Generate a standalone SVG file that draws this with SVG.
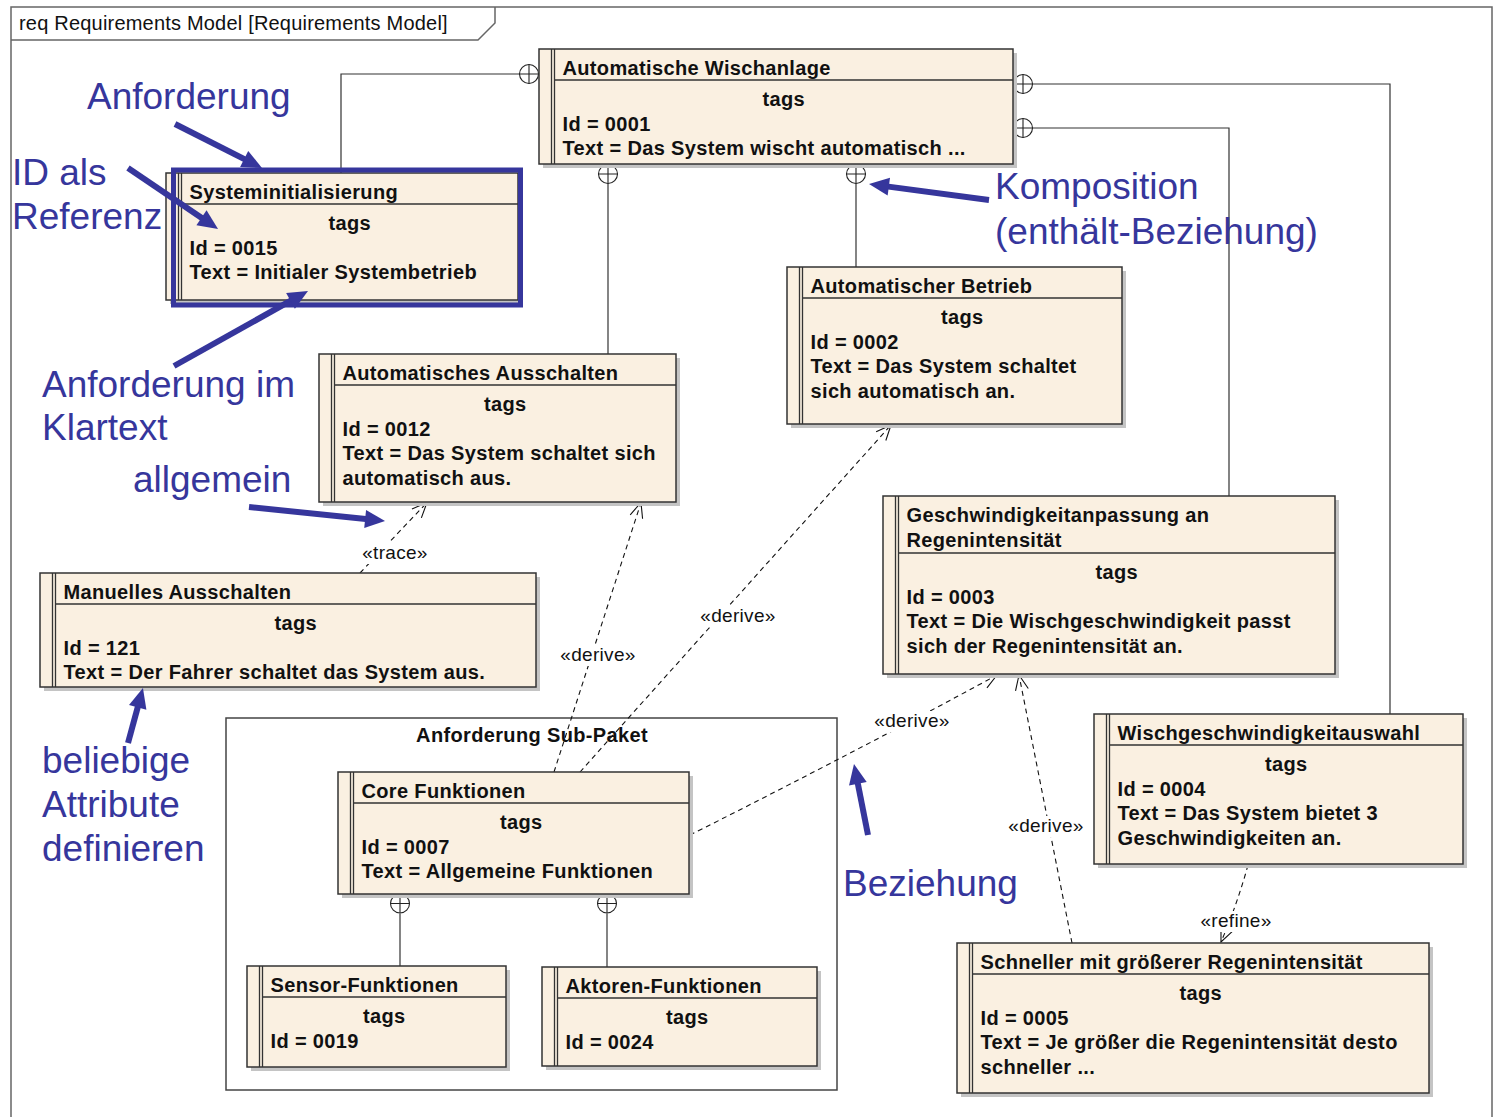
<svg xmlns="http://www.w3.org/2000/svg" width="1494" height="1117" viewBox="0 0 1494 1117">
  <style>
    .frame { fill: none; stroke: #666; stroke-width: 1.5; }
    .pkg { fill: none; stroke: #444; stroke-width: 1.5; }
    .shadow { fill: #c4c4c4; }
    .box { fill: #FAF0E1; stroke: #333; stroke-width: 1.5; }
    .rule { stroke: #333; stroke-width: 1.3; fill: none; }
    .t { font-family: "Liberation Sans", Arial, sans-serif; font-weight: bold; font-size: 20px; letter-spacing: 0.35px; fill: #111; }
    .mid { text-anchor: middle; }
    .plain { font-family: "Liberation Sans", Arial, sans-serif; font-size: 20px; letter-spacing: 0.2px; fill: #111; }
    .lbl { font-family: "Liberation Sans", Arial, sans-serif; font-size: 19px; letter-spacing: 0.3px; fill: #111; text-anchor: middle; }
    .lblbg { fill: #fff; }
    .comp { stroke: #333; stroke-width: 1.2; fill: none; }
    .knob { fill: #fff; stroke: #222; stroke-width: 1.1; }
    .dep { stroke: #111; stroke-width: 1.1; fill: none; stroke-dasharray: 5 4; marker-end: url(#open); }
    .note { font-family: "Liberation Sans", Arial, sans-serif; font-size: 37px; fill: #36369C; }
    .pointer { stroke: #36369C; stroke-width: 6; fill: none; marker-end: url(#head); }
  </style>
  <defs>
    <marker id="open" markerUnits="userSpaceOnUse" viewBox="-17 -8 19 16" markerWidth="19" markerHeight="16" refX="0" refY="0" orient="auto" overflow="visible">
      <path d="M-15,-6.5 L0,0 L-15,6.5" fill="none" stroke="#111" stroke-width="1.1" stroke-dasharray="none"/>
    </marker>
    <marker id="head" markerUnits="userSpaceOnUse" viewBox="0 0 20 18" markerWidth="20" markerHeight="18" refX="8" refY="9" orient="auto" overflow="visible">
      <path d="M0,0 L20,9 L0,18 z" fill="#36369C"/>
    </marker>
    <!-- composition end: circle with a cross -->
    <g id="owner">
      <circle r="9.5" class="knob"/>
      <path d="M-9.5,0 H9.5 M0,-9.5 V9.5" stroke="#222" stroke-width="1.1"/>
    </g>
  </defs>

  <rect width="1494" height="1117" fill="#fff"/>

  <!-- diagram frame -->
  <g id="frame">
    <rect x="11" y="7" width="1481" height="1115" class="frame"/>
    <path d="M11,40 H478 L495,23 V7" class="frame"/>
    <text x="19" y="30" class="plain">req Requirements Model [Requirements Model]</text>
  </g>

  <!-- package -->
  <g id="pkg-sub">
    <rect x="226" y="718" width="611" height="372" class="pkg"/>
    <text x="532" y="742" class="t mid">Anforderung Sub-Paket</text>
  </g>

  <!-- connectors -->
  <g id="connectors">
    <path d="M519.5,74 H341 V173" class="comp"/>
    <path d="M608,183.5 V354" class="comp"/>
    <path d="M856,183.5 V267" class="comp"/>
    <path d="M1032.5,84 H1390 V714" class="comp"/>
    <path d="M1032.5,128 H1229 V496" class="comp"/>
    <path d="M400,913.5 V966" class="comp"/>
    <path d="M607,913.5 V967" class="comp"/>
    <use href="#owner" x="529" y="74"/>
    <use href="#owner" x="608" y="174"/>
    <use href="#owner" x="856" y="174"/>
    <use href="#owner" x="1023" y="84"/>
    <use href="#owner" x="1023" y="128"/>
    <use href="#owner" x="400" y="903.5"/>
    <use href="#owner" x="607" y="903.5"/>

    <path d="M360,573 L427,502.5" class="dep"/>
    <path d="M554,772 L641,502.5" class="dep"/>
    <path d="M580,772 L891,425" class="dep"/>
    <path d="M690,835 C760,800 900,728 997,675" class="dep"/>
    <path d="M1072,943 L1019,675" class="dep"/>
    <path d="M1248,865 Q1237,905 1221,942" class="dep"/>

    <rect x="361" y="543" width="68" height="21" class="lblbg"/>
    <text x="395" y="559" class="lbl">«trace»</text>
    <rect x="559" y="645" width="79" height="21" class="lblbg"/>
    <text x="598" y="661" class="lbl">«derive»</text>
    <rect x="699" y="606" width="79" height="21" class="lblbg"/>
    <text x="738" y="622" class="lbl">«derive»</text>
    <rect x="873" y="711" width="79" height="21" class="lblbg"/>
    <text x="912" y="727" class="lbl">«derive»</text>
    <rect x="1007" y="816" width="79" height="21" class="lblbg"/>
    <text x="1046" y="832" class="lbl">«derive»</text>
    <rect x="1199" y="911" width="75" height="21" class="lblbg"/>
    <text x="1236" y="927" class="lbl">«refine»</text>
  </g>

  <!-- requirements -->
  <g id="req-0001">
    <rect x="543" y="53" width="474" height="115" class="shadow"/>
    <rect x="539" y="49" width="474" height="115" class="box"/>
    <path d="M551.5,49 V164 M554.5,49 V164 M554.5,80 H1013" class="rule"/>
    <text x="562.5" y="74.5" class="t">Automatische Wischanlage</text>
    <text x="783.75" y="106" class="t mid">tags</text>
    <text x="562.5" y="130.5" class="t">Id = 0001</text>
    <text x="562.5" y="155" class="t">Text = Das System wischt automatisch ...</text>
  </g>

  <g id="req-0015">
    <rect x="170" y="177" width="352" height="127" class="shadow"/>
    <rect x="166" y="173" width="352" height="127" class="box"/>
    <path d="M178.5,173 V300 M181.5,173 V300 M181.5,204 H518" class="rule"/>
    <text x="189.5" y="198.5" class="t">Systeminitialisierung</text>
    <text x="349.75" y="230" class="t mid">tags</text>
    <text x="189.5" y="254.5" class="t">Id = 0015</text>
    <text x="189.5" y="279" class="t">Text = Initialer Systembetrieb</text>
  </g>

  <g id="req-0012">
    <rect x="323" y="358" width="357" height="148" class="shadow"/>
    <rect x="319" y="354" width="357" height="148" class="box"/>
    <path d="M331.5,354 V502 M334.5,354 V502 M334.5,385 H676" class="rule"/>
    <text x="342.5" y="379.5" class="t">Automatisches Ausschalten</text>
    <text x="505.25" y="411" class="t mid">tags</text>
    <text x="342.5" y="435.5" class="t">Id = 0012</text>
    <text x="342.5" y="460" class="t">Text = Das System schaltet sich</text>
    <text x="342.5" y="484.5" class="t">automatisch aus.</text>
  </g>

  <g id="req-121">
    <rect x="44" y="577" width="496" height="114" class="shadow"/>
    <rect x="40" y="573" width="496" height="114" class="box"/>
    <path d="M52.5,573 V687 M55.5,573 V687 M55.5,604 H536" class="rule"/>
    <text x="63.5" y="598.5" class="t">Manuelles Ausschalten</text>
    <text x="295.75" y="630" class="t mid">tags</text>
    <text x="63.5" y="654.5" class="t">Id = 121</text>
    <text x="63.5" y="679" class="t">Text = Der Fahrer schaltet das System aus.</text>
  </g>

  <g id="req-0002">
    <rect x="791" y="271" width="335" height="157" class="shadow"/>
    <rect x="787" y="267" width="335" height="157" class="box"/>
    <path d="M799.5,267 V424 M802.5,267 V424 M802.5,298 H1122" class="rule"/>
    <text x="810.5" y="292.5" class="t">Automatischer Betrieb</text>
    <text x="962.25" y="324" class="t mid">tags</text>
    <text x="810.5" y="348.5" class="t">Id = 0002</text>
    <text x="810.5" y="373" class="t">Text = Das System schaltet</text>
    <text x="810.5" y="397.5" class="t">sich automatisch an.</text>
  </g>

  <g id="req-0003">
    <rect x="887" y="500" width="452" height="178" class="shadow"/>
    <rect x="883" y="496" width="452" height="178" class="box"/>
    <path d="M895.5,496 V674 M898.5,496 V674 M898.5,553 H1335" class="rule"/>
    <text x="906.5" y="521.5" class="t">Geschwindigkeitanpassung an</text>
    <text x="906.5" y="546.5" class="t">Regenintensität</text>
    <text x="1116.75" y="579" class="t mid">tags</text>
    <text x="906.5" y="603.5" class="t">Id = 0003</text>
    <text x="906.5" y="628" class="t">Text = Die Wischgeschwindigkeit passt</text>
    <text x="906.5" y="652.5" class="t">sich der Regenintensität an.</text>
  </g>

  <g id="req-0004">
    <rect x="1098" y="718" width="369" height="150" class="shadow"/>
    <rect x="1094" y="714" width="369" height="150" class="box"/>
    <path d="M1106.5,714 V864 M1109.5,714 V864 M1109.5,745 H1463" class="rule"/>
    <text x="1117.5" y="739.5" class="t">Wischgeschwindigkeitauswahl</text>
    <text x="1286.25" y="771" class="t mid">tags</text>
    <text x="1117.5" y="795.5" class="t">Id = 0004</text>
    <text x="1117.5" y="820" class="t">Text = Das System bietet 3</text>
    <text x="1117.5" y="844.5" class="t">Geschwindigkeiten an.</text>
  </g>

  <g id="req-0005">
    <rect x="961" y="947" width="472" height="150" class="shadow"/>
    <rect x="957" y="943" width="472" height="150" class="box"/>
    <path d="M969.5,943 V1093 M972.5,943 V1093 M972.5,974 H1429" class="rule"/>
    <text x="980.5" y="968.5" class="t">Schneller mit größerer Regenintensität</text>
    <text x="1200.75" y="1000" class="t mid">tags</text>
    <text x="980.5" y="1024.5" class="t">Id = 0005</text>
    <text x="980.5" y="1049" class="t">Text = Je größer die Regenintensität desto</text>
    <text x="980.5" y="1073.5" class="t">schneller ...</text>
  </g>

  <g id="req-0007">
    <rect x="342" y="776" width="351" height="122" class="shadow"/>
    <rect x="338" y="772" width="351" height="122" class="box"/>
    <path d="M350.5,772 V894 M353.5,772 V894 M353.5,803 H689" class="rule"/>
    <text x="361.5" y="797.5" class="t">Core Funktionen</text>
    <text x="521.25" y="829" class="t mid">tags</text>
    <text x="361.5" y="853.5" class="t">Id = 0007</text>
    <text x="361.5" y="878" class="t">Text = Allgemeine Funktionen</text>
  </g>

  <g id="req-0019">
    <rect x="251" y="970" width="259" height="101" class="shadow"/>
    <rect x="247" y="966" width="259" height="101" class="box"/>
    <path d="M259.5,966 V1067 M262.5,966 V1067 M262.5,997 H506" class="rule"/>
    <text x="270.5" y="991.5" class="t">Sensor-Funktionen</text>
    <text x="384.25" y="1023" class="t mid">tags</text>
    <text x="270.5" y="1047.5" class="t">Id = 0019</text>
  </g>

  <g id="req-0024">
    <rect x="546" y="971" width="275" height="99" class="shadow"/>
    <rect x="542" y="967" width="275" height="99" class="box"/>
    <path d="M554.5,967 V1066 M557.5,967 V1066 M557.5,998 H817" class="rule"/>
    <text x="565.5" y="992.5" class="t">Aktoren-Funktionen</text>
    <text x="687.25" y="1024" class="t mid">tags</text>
    <text x="565.5" y="1048.5" class="t">Id = 0024</text>
  </g>

  <!-- explanatory callouts -->
  <g id="callouts">
    <rect x="173.5" y="170" width="347" height="135" fill="none" stroke="#36369C" stroke-width="5"/>
    <text x="87" y="109" class="note">Anforderung</text>
    <text x="12" y="185" class="note">ID als</text>
    <text x="12" y="229" class="note">Referenz</text>
    <text x="42" y="397" class="note">Anforderung im</text>
    <text x="42" y="440" class="note">Klartext</text>
    <text x="133" y="492" class="note">allgemein</text>
    <text x="995" y="199" class="note">Komposition</text>
    <text x="995" y="244" class="note">(enthält-Beziehung)</text>
    <text x="42" y="773" class="note">beliebige</text>
    <text x="42" y="817" class="note">Attribute</text>
    <text x="42" y="861" class="note">definieren</text>
    <text x="843" y="896" class="note">Beziehung</text>

    <path d="M175,124 L251.3,162.6" class="pointer"/>
    <path d="M128,168 L208.1,222.3" class="pointer"/>
    <path d="M174,366 L297.5,296.9" class="pointer"/>
    <path d="M249,507 L373.1,519.8" class="pointer"/>
    <path d="M989,200 L880.9,185.6" class="pointer"/>
    <path d="M128,743 L139.8,699.6" class="pointer"/>
    <path d="M868,835 L856.3,775.8" class="pointer"/>
  </g>
</svg>
